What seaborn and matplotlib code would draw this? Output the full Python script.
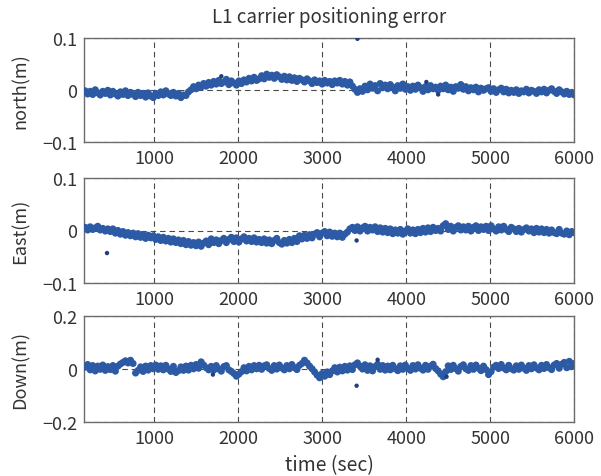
import numpy as np
import pandas as pd
import matplotlib
matplotlib.use("Agg")
import matplotlib.pyplot as plt
import seaborn as sns

# Sampling grid of the solution epochs (seconds)
t_start = 180
dt = 30

# Position error per epoch, millimetres
north_mm = [
    -1, -7, -2, -8, 1, -5, -9, -2, -6, 0,
    -9, -2, -7, -11, -3, -8, -1, -10, -4, -8,
    -12, -4, -10, -6, -13, -5, -11, -14, -6, -10,
    -3, -9, -1, -7, -10, -4, -11, -6, -14, -9,
    -10, -3, 1, 7, 3, 10, 6, 13, 8, 15,
    10, 17, 12, 19, 13, 16, 21, 11, 18, 14,
    10, 18, 13, 20, 16, 23, 18, 25, 19, 22,
    28, 22, 31, 25, 29, 23, 30, 26, 21, 27,
    20, 26, 19, 24, 17, 23, 20, 16, 22, 18,
    13, 20, 15, 18, 12, 19, 14, 17, 11, 18,
    14, 19, 12, 17, 10, 16, 8, 2, -4, 3,
    -2, 8, 1, 12, 4, 9, -1, 13, 5, 10,
    3, 11, 6, -1, 9, 4, 12, 2, 7, 0,
    8, 2, 10, 5, -2, 7, 1, 9, 3, 6,
    0, 8, 3, 10, 1, 6, -2, 7, 4, 11,
    2, 7, -1, 5, 1, 6, -3, 4, 0, 3,
    5, -2, 3, -4, 1, 4, -3, 2, -5, 0,
    -4, 1, -6, -1, -3, 2, -5, 0, -2, -6,
    1, -3, 2, -5, 0, 3, -2, -6, 1, -3,
    -7, -2, -8, -4, -9,
]

east_mm = [
    6, 1, 7, 2, 5, 8, 1, 4, -1, 3,
    -2, 3, -5, 0, -7, -2, -9, -4, -10, -5,
    -12, -6, -13, -8, -15, -9, -14, -10, -17, -12,
    -19, -13, -20, -15, -22, -16, -23, -18, -25, -19,
    -27, -21, -28, -23, -29, -22, -30, -24, -20, -27,
    -16, -23, -18, -25, -19, -15, -23, -17, -13, -21,
    -14, -22, -16, -12, -20, -15, -21, -14, -22, -17,
    -23, -16, -24, -18, -25, -19, -15, -23, -26, -19,
    -24, -17, -23, -15, -21, -10, -16, -9, -15, -8,
    -14, -7, -4, -12, -5, -2, -10, -3, -11, -5,
    -12, -5, -13, -7, -3, 3, 6, 0, 7, -1,
    5, 8, -1, 6, 1, 7, -2, 5, -3, 4,
    -4, 3, -6, 1, -5, 2, -7, -1, 3, -5,
    1, -6, 2, -4, 4, -3, 5, -2, 6, 0,
    4, -1, 9, 13, 2, 8, -1, 6, 9, 1,
    7, 1, 8, -1, 6, 9, 0, 7, 2, 8,
    0, 9, 3, -1, 7, 1, 8, 2, -2, 6,
    3, -2, 4, -3, 2, 5, -1, 3, -4, 4,
    -3, 3, -4, 2, -5, 1, -4, -6, 2, -5,
    -7, -1, -8, -2, -4,
]

down_mm = [
    8, 18, -2, 14, -6, 12, 0, 16, -4, 10,
    -1, 14, -7, 12, 20, 26, 32, 24, 34, 22,
    -14, -4, 9, -8, 12, -3, 14, 2, 16, 0,
    13, -2, 15, 1, -8, 11, -12, -5, 9, -4,
    12, -3, 15, 2, 18, 4, 28, 16, 6, -2,
    11, -3, 14, 1, -7, 10, 14, -2, -8, -16,
    -26, -18, -9, 6, -6, 11, -2, 14, 2, 15,
    0, 13, 17, 3, -4, 14, 1, 16, 5, -2,
    14, 2, 18, 6, -1, 15, 22, 34, 24, 12,
    2, -10, -22, -32, -16, -26, -10, -20, -6, 6,
    -10, 8, -6, 11, -3, 13, -1, 17, 24, 12,
    1, 17, -4, 13, -6, 10, 19, 0, 14, -3,
    12, -2, 15, 2, -5, 13, 0, 16, 3, -4,
    14, 1, 17, 4, -3, 15, 0, 12, 19, 3,
    -6, -18, -28, -9, 13, -1, 15, 2, -7, 11,
    17, 2, -4, 14, 0, 16, 4, -5, 12, -1,
    -20, -9, 8, 15, 3, 18, 5, -2, 15, 2,
    -3, 13, 0, 16, 4, -4, 14, 2, 17, 5,
    -2, 15, 3, 18, 6, -1, 16, 22, 4, 19,
    26, 6, 30, 10, 22,
]

# Isolated epochs away from the main band
north_out_t = [1800, 3420, 4240, 4380]
north_out_mm = [27, 99, 16, -8]
east_out_t = [440, 3410]
east_out_mm = [-43, -19]
down_out_t = [1700, 3410, 3660, 4480]
down_out_mm = [-20, -62, 36, -28]

panels = [
    ("north(m)", north_mm, north_out_t, north_out_mm, [-0.1, 0, 0.1]),
    ("East(m)", east_mm, east_out_t, east_out_mm, [-0.1, 0, 0.1]),
    ("Down(m)", down_mm, down_out_t, down_out_mm, [-0.2, 0, 0.2]),
]
x_ticks = [1000, 2000, 3000, 4000, 5000, 6000]

sns.set_theme(style="white")
plt.rcParams["font.family"] = ["Noto Sans CJK JP", "DejaVu Sans"]

W, H = 601, 477
fig = plt.figure(figsize=(W / 100, H / 100), dpi=100)
fig.patch.set_facecolor("white")

# axes boxes in pixels: (left, top, right, bottom)
boxes = [(84.3, 39.3, 574.3, 143.3), (84.3, 179.0, 574.3, 284.0), (84.3, 317.3, 574.3, 423.3)]

dot_color = "#2c5aa5"
frame_color = "#6b6b6b"
grid_color = "#4a4a4a"
text_color = "#333333"

axes = []
for (label, vals, out_t, out_v, yticks), (l, t, r, b) in zip(panels, boxes):
    ax = fig.add_axes([l / W, 1 - b / H, (r - l) / W, (b - t) / H])
    axes.append(ax)
    df = pd.DataFrame({"err": np.asarray(vals) / 1000.0})
    df["time"] = t_start + dt * np.arange(len(df))
    out = pd.DataFrame({"time": out_t, "err": np.asarray(out_v) / 1000.0})
    sns.scatterplot(data=df, x="time", y="err", ax=ax, color=dot_color,
                    s=26, linewidth=0, edgecolor="none", zorder=3)
    sns.scatterplot(data=out, x="time", y="err", ax=ax, color="#1f3f7a",
                    s=10, linewidth=0, edgecolor="none", zorder=3)
    ax.set_xlim(170, 6000)
    ax.set_ylim(yticks[0], yticks[-1])
    ax.set_xticks(x_ticks)
    ax.set_xticklabels([str(v) for v in x_ticks])
    ax.set_yticks(yticks)
    ax.set_yticklabels(["0" if v == 0 else f"{v:.1f}".replace("-", "\u2212") for v in yticks])
    ax.grid(True, linestyle=(0, (5, 3.5)), color=grid_color, linewidth=0.8, zorder=1)
    ax.set_axisbelow(True)
    ax.tick_params(axis="both", which="major", direction="in", length=3,
                   color=frame_color, labelsize=13, labelcolor=text_color, pad=5)
    for sp in ax.spines.values():
        sp.set_color(frame_color)
        sp.set_linewidth(1.0)
    ax.set_xlabel("")
    ax.set_ylabel(label, fontsize=13, color=text_color, labelpad=9)

axes[0].set_title("L1 carrier positioning error", fontsize=13.5, color=text_color, pad=12)
axes[2].set_xlabel("time (sec)", fontsize=14, color=text_color, labelpad=5)
fig.align_ylabels(axes)

fig.savefig("out.png", dpi=100, facecolor="white")
